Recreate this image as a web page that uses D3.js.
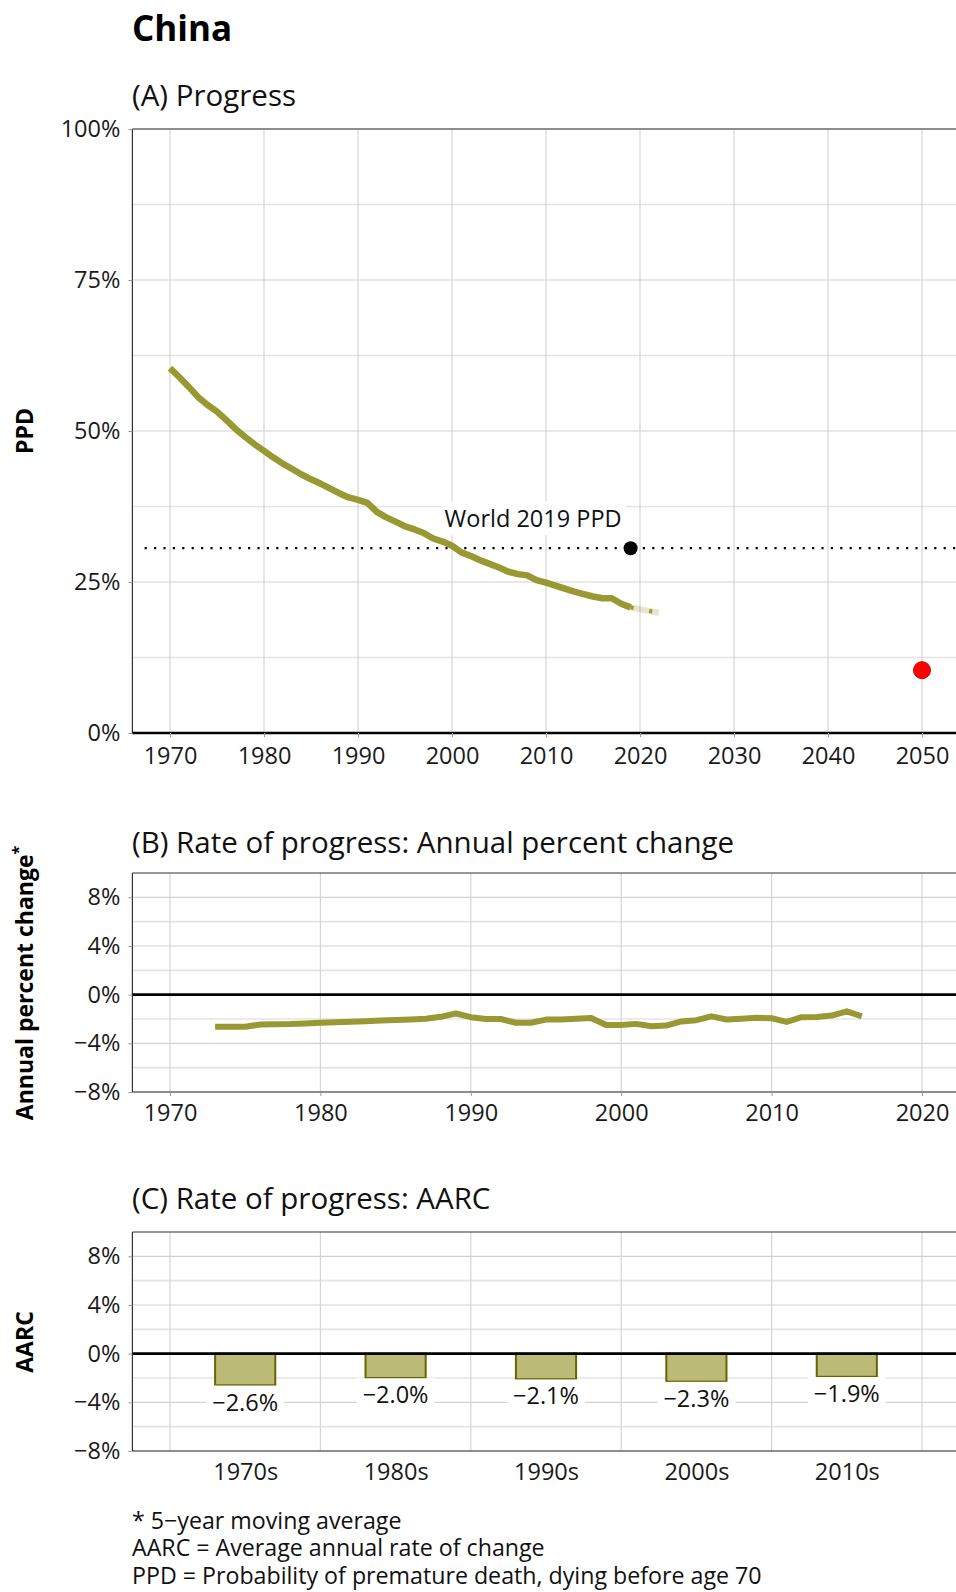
<!DOCTYPE html>
<html><head><meta charset="utf-8">
<script src="https://cdn.jsdelivr.net/npm/d3@7"></script>
<style>
body{margin:0;background:#fff}
svg text{font-family:"Open Sans",sans-serif}
</style>
</head><body>
<svg id="chart" width="956" height="1592"></svg>
<script>
// ---------------- data ----------------
const countryName = "China";
const ppdYears = [1970,1971,1972,1973,1974,1975,1976,1977,1978,1979,
  1980,1981,1982,1983,1984,1985,1986,1987,1988,1989,
  1990,1991,1992,1993,1994,1995,1996,1997,1998,1999,
  2000,2001,2002,2003,2004,2005,2006,2007,2008,2009,
  2010,2011,2012,2013,2014,2015,2016,2017,2018,2019];
const ppdValues = [60.4,58.9,57.3,55.6,54.3,53.2,51.8,50.3,49.0,47.8,
  46.7,45.6,44.6,43.7,42.8,42.0,41.3,40.5,39.7,39.0,
  38.6,38.1,36.6,35.7,35.0,34.2,33.7,33.1,32.2,31.7,
  31.0,29.9,29.3,28.6,28.0,27.4,26.7,26.3,26.1,25.3,
  24.9,24.4,23.9,23.4,23.0,22.6,22.3,22.3,21.4,20.8];
const projYears = [2019,2020,2021,2022];
const projValues = [20.8,20.5,20.2,19.9];
const worldYear = 2019, worldValue = 30.6;
const targetYear = 2050, targetValue = 10.4;

const apcYears = [1973,1974,1975,1976,1977,1978,1979,1980,1981,1982,
  1983,1984,1985,1986,1987,1988,1989,1990,1991,1992,
  1993,1994,1995,1996,1997,1998,1999,2000,2001,2002,
  2003,2004,2005,2006,2007,2008,2009,2010,2011,2012,
  2013,2014,2015,2016];
const apcValues = [-2.64,-2.64,-2.64,-2.45,-2.43,-2.42,-2.36,-2.30,-2.26,-2.22,
  -2.18,-2.12,-2.08,-2.04,-1.98,-1.82,-1.55,-1.85,-2.00,-2.00,
  -2.31,-2.31,-2.05,-2.04,-1.98,-1.92,-2.50,-2.50,-2.40,-2.59,
  -2.54,-2.20,-2.10,-1.78,-2.04,-1.98,-1.90,-1.94,-2.24,-1.85,
  -1.83,-1.72,-1.37,-1.78];

const decadeLabels = ["1970s","1980s","1990s","2000s","2010s"];
const decadeMids = [1975,1985,1995,2005,2015];
const aarcValues = [-2.6,-2.0,-2.1,-2.3,-1.9];

const ppdMajorTicks = [0,25,50,75,100];
const ppdMinorTicks = [12.5,37.5,62.5,87.5];
const yearTicksA = [1970,1980,1990,2000,2010,2020,2030,2040,2050];
const yearTicksB = [1970,1980,1990,2000,2010,2020];
const rateMajorTicks = [-8,-4,0,4,8];
const rateMinorTicks = [-6,-2,2,6];

const titles = ["(A) Progress","(B) Rate of progress: Annual percent change","(C) Rate of progress: AARC"];
const footnotes = ["* 5\u2212year moving average","AARC = Average annual rate of change","PPD = Probability of premature death, dying before age 70"];

// ---------------- drawing ----------------
const OLIVE = "#999933";
const FS = 23.5, TFS = 29.5;
const svg = d3.select("#chart");
svg.append("rect").attr("width",956).attr("height",1592).attr("fill","#fff");

const L = 132.4, R = 959.6;
const xA = d3.scaleLinear().domain([1966,2054]).range([L,R]);
const yA = d3.scaleLinear().domain([0,100]).range([733,129]);
const xB = d3.scaleLinear().domain([1967.5,2022.5]).range([L,R]);
const yB = d3.scaleLinear().domain([-8,10]).range([1092,873]);
const yC = d3.scaleLinear().domain([-8,10]).range([1451,1232]);

const pct = d => d3.format("d")(d) + "%";

svg.append("text").attr("x",132).attr("y",41)
  .attr("font-size",35).attr("font-weight","bold").attr("fill","#000").text(countryName);

function panelTitle(t,y){
  svg.append("text").attr("x",132).attr("y",y).attr("font-size",TFS).attr("fill","#111").text(t);
}
function yTitle(t,cy,sup){
  const tx = svg.append("text").attr("transform",`translate(33,${cy}) rotate(-90)`)
    .attr("text-anchor","middle").attr("font-size",23).attr("font-weight","bold").attr("fill","#000").text(t);
  if(sup){ tx.append("tspan").attr("dy",-9).attr("font-size",16).text(sup); }
}
function hGrid(g,ys,vals,cls){
  g.selectAll(null).data(vals).enter().append("line")
    .attr("x1",L).attr("x2",R).attr("y1",d=>ys(d)).attr("y2",d=>ys(d))
    .attr("stroke",cls==="minor"?"#e4e4e4":"#d2d2d2").attr("stroke-width",cls==="minor"?1.6:1.1);
}
function vGrid(g,xs,vals,y0,y1){
  g.selectAll(null).data(vals).enter().append("line")
    .attr("x1",d=>xs(d)).attr("x2",d=>xs(d)).attr("y1",y0).attr("y2",y1)
    .attr("stroke","#d2d2d2").attr("stroke-width",1.1);
}
function styleAxis(g){
  g.select(".domain").remove();
  g.selectAll(".tick line").attr("stroke","#999");
  g.selectAll(".tick text").attr("font-size",FS).attr("fill","#1a1a1a").attr("font-family","Open Sans, sans-serif");
}

// ---- Panel A ----
panelTitle(titles[0],106);
yTitle("PPD",431);
const gA = svg.append("g");
hGrid(gA,yA,ppdMinorTicks,"minor");
hGrid(gA,yA,ppdMajorTicks,"major");
vGrid(gA,xA,yearTicksA,yA(100),yA(0));
gA.append("line").attr("x1",L).attr("x2",R).attr("y1",yA(100)).attr("y2",yA(100)).attr("stroke","#333").attr("stroke-width",1.2);
gA.append("line").attr("x1",L).attr("x2",L).attr("y1",yA(100)).attr("y2",yA(0)).attr("stroke","#333").attr("stroke-width",1.2);
styleAxis(svg.append("g").attr("transform",`translate(${L},0)`)
  .call(d3.axisLeft(yA).tickValues(ppdMajorTicks).tickFormat(pct).tickSize(4).tickPadding(8)));
styleAxis(svg.append("g").attr("transform",`translate(0,${yA(0)})`)
  .call(d3.axisBottom(xA).tickValues(yearTicksA).tickFormat(d3.format("d")).tickSize(4).tickPadding(10)));

// world reference
gA.append("line").attr("x1",xA(1967.3)).attr("x2",R).attr("y1",yA(worldValue)).attr("y2",yA(worldValue))
  .attr("stroke","#000").attr("stroke-width",2.2).attr("stroke-dasharray","2.2,7.2");
const wl = gA.append("g");
const wt = wl.append("text").attr("x",xA(worldYear)-9).attr("y",yA(worldValue)-21)
  .attr("text-anchor","end").attr("font-size",FS).attr("fill","#111").text("World 2019 PPD");
const bb = wt.node().getBBox();
wl.insert("rect","text").attr("x",bb.x-3).attr("y",bb.y-1).attr("width",bb.width+7).attr("height",bb.height+2).attr("fill","#fff");

const lineA = d3.line().x(d=>xA(d[0])).y(d=>yA(d[1]));
gA.append("path").datum(projYears.map((y,i)=>[y,projValues[i]]))
  .attr("d",lineA).attr("fill","none").attr("stroke",OLIVE).attr("stroke-opacity",0.25).attr("stroke-width",6);
gA.append("path").datum(projYears.map((y,i)=>[y,projValues[i]]))
  .attr("d",lineA).attr("fill","none").attr("stroke",OLIVE).attr("stroke-width",4).attr("stroke-dasharray","3,16");
gA.append("path").datum(ppdYears.map((y,i)=>[y,ppdValues[i]]))
  .attr("d",lineA).attr("fill","none").attr("stroke",OLIVE).attr("stroke-width",6.5).attr("stroke-linejoin","round");
gA.append("circle").attr("cx",xA(worldYear)).attr("cy",yA(worldValue)).attr("r",7).attr("fill","#000");
gA.append("circle").attr("cx",xA(targetYear)).attr("cy",yA(targetValue)).attr("r",8.5).attr("fill","#ff0000").attr("stroke","#d00").attr("stroke-width",1);
gA.append("line").attr("x1",L).attr("x2",R).attr("y1",yA(0)).attr("y2",yA(0)).attr("stroke","#000").attr("stroke-width",2.6);

// ---- Panel B ----
panelTitle(titles[1],853);
yTitle("Annual percent change",983,"*");
const gB = svg.append("g");
hGrid(gB,yB,rateMinorTicks,"minor");
hGrid(gB,yB,rateMajorTicks,"major");
vGrid(gB,xB,yearTicksB,yB(10),yB(-8));
[yB(10),yB(-8)].forEach(y=>gB.append("line").attr("x1",L).attr("x2",R).attr("y1",y).attr("y2",y).attr("stroke","#333").attr("stroke-width",1.2));
gB.append("line").attr("x1",L).attr("x2",L).attr("y1",yB(10)).attr("y2",yB(-8)).attr("stroke","#333").attr("stroke-width",1.2);
styleAxis(svg.append("g").attr("transform",`translate(${L},0)`)
  .call(d3.axisLeft(yB).tickValues(rateMajorTicks).tickFormat(pct).tickSize(4).tickPadding(8)));
styleAxis(svg.append("g").attr("transform",`translate(0,${yB(-8)})`)
  .call(d3.axisBottom(xB).tickValues(yearTicksB).tickFormat(d3.format("d")).tickSize(4).tickPadding(8)));
gB.append("line").attr("x1",L).attr("x2",R).attr("y1",yB(0)).attr("y2",yB(0)).attr("stroke","#000").attr("stroke-width",2.6);
const lineB = d3.line().x(d=>xB(d[0])).y(d=>yB(d[1]));
gB.append("path").datum(apcYears.map((y,i)=>[y,apcValues[i]]))
  .attr("d",lineB).attr("fill","none").attr("stroke",OLIVE).attr("stroke-width",6).attr("stroke-linejoin","round");

// ---- Panel C ----
panelTitle(titles[2],1209);
yTitle("AARC",1342);
const gC = svg.append("g");
hGrid(gC,yC,rateMinorTicks,"minor");
hGrid(gC,yC,rateMajorTicks,"major");
vGrid(gC,xB,yearTicksB,yC(10),yC(-8));
[yC(10),yC(-8)].forEach(y=>gC.append("line").attr("x1",L).attr("x2",R).attr("y1",y).attr("y2",y).attr("stroke","#333").attr("stroke-width",1.2));
gC.append("line").attr("x1",L).attr("x2",L).attr("y1",yC(10)).attr("y2",yC(-8)).attr("stroke","#333").attr("stroke-width",1.2);
styleAxis(svg.append("g").attr("transform",`translate(${L},0)`)
  .call(d3.axisLeft(yC).tickValues(rateMajorTicks).tickFormat(pct).tickSize(4).tickPadding(8)));
const axC = svg.append("g").attr("transform",`translate(0,${yC(-8)})`)
  .call(d3.axisBottom(xB).tickValues(decadeMids).tickFormat((d,i)=>decadeLabels[i]).tickSize(0).tickPadding(12));
styleAxis(axC);
gC.selectAll(null).data(decadeMids).enter().append("rect")
  .attr("x",d=>xB(d-2)).attr("width",xB(1977)-xB(1973))
  .attr("y",yC(0)).attr("height",(d,i)=>yC(aarcValues[i])-yC(0))
  .attr("fill","#bbbb77").attr("stroke","#666600").attr("stroke-width",2);
gC.append("line").attr("x1",L).attr("x2",R).attr("y1",yC(0)).attr("y2",yC(0)).attr("stroke","#000").attr("stroke-width",2.6);
decadeMids.forEach((d,i)=>{
  const g = gC.append("g");
  const t = g.append("text").attr("x",xB(d)).attr("y",yC(aarcValues[i])+17).attr("dy","0.35em")
    .attr("text-anchor","middle").attr("font-size",FS).attr("fill","#111")
    .text(d3.format(".1f")(aarcValues[i])+"%");
  const b = t.node().getBBox();
  g.insert("rect","text").attr("x",b.x-6).attr("y",b.y).attr("width",b.width+12).attr("height",b.height).attr("fill","#fff");
});

// ---- Footnotes (one multi-line text block) ----
const fn = svg.append("text").attr("x",132).attr("y",1528.5).attr("font-size",23.2).attr("fill","#111");
footnotes.forEach((f,i)=>{
  fn.append("tspan").attr("x",132).attr("dy",i===0?0:27.5).text(f);
});
</script>
</body></html>
